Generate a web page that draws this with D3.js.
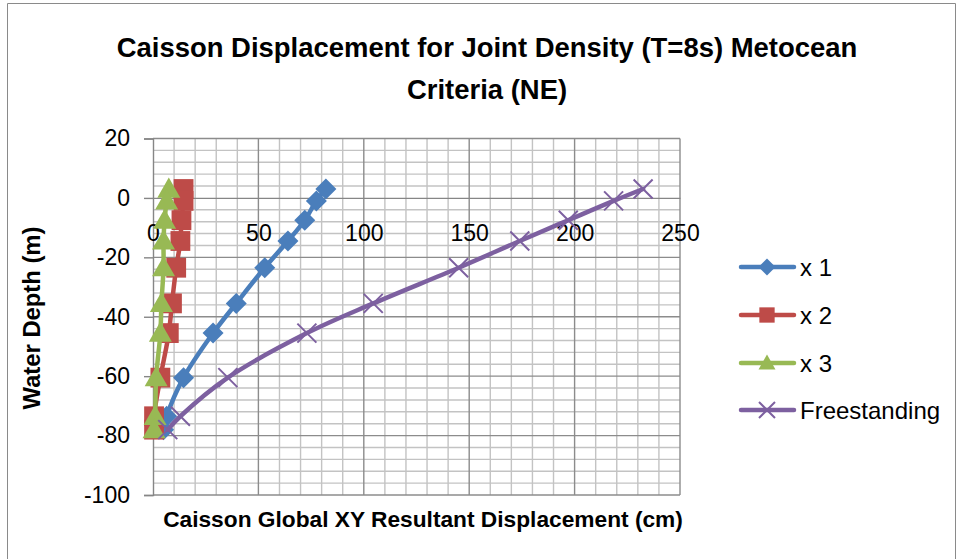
<!DOCTYPE html>
<html>
<head>
<meta charset="utf-8">
<script src="https://cdn.jsdelivr.net/npm/d3@7"></script>
<style>
  body { margin: 0; background: #fff; }
  svg { display: block; }
  text { font-family: "Liberation Sans", Arial, sans-serif; fill: #000; }
</style>
</head>
<body>
<div id="chart"></div>
<script>
// water depth levels (m), shared by all series
const depths = [3, -1, -7.5, -14.5, -23.5, -35.5, -45.5, -60.5, -73.5, -78];
// resultant displacement (cm) per case
const x1 = [82, 77.5, 72, 64, 53, 39.5, 28.5, 14.5, 6.5, 5];
const x2 = [14.5, 14.5, 13.5, 13, 11, 9, 7.5, 3.5, 0.5, 0.5];
const x3 = [7.5, 6.5, 5.5, 5, 5, 4, 3.5, 1.5, 1, 0.5];
const freestanding = [232.5, 218.5, 197, 174, 145, 104.5, 73, 35.5, 13, 7];

const seriesNames = ["x 1", "x 2", "x 3", "Freestanding"];
const xTicks = [0, 50, 100, 150, 200, 250];
const yTicks = [-100, -80, -60, -40, -20, 0, 20];

const W = 958, H = 559;

let svg = d3.select("#chart").append("svg")
    .attr("width", W)
    .attr("height", H);

// chart border
svg.append("path")
    .attr("d", "M7.5,620 V3.5 H955.5 V620")
    .attr("fill", "none")
    .attr("stroke", "#8a8a8a")
    .attr("stroke-width", 1);

let xScale = d3.scaleLinear().domain([0, 250]).range([153, 680]);
let yScale = d3.scaleLinear().domain([-100, 20]).range([495, 138.5]);

// gridlines, minor first then major
let grid = svg.append("g").attr("id", "grid");
grid.selectAll("line.vminor")
    .data(d3.range(0, 251, 10).filter(v => v % 50 !== 0))
    .join("line")
    .attr("x1", d => xScale(d)).attr("x2", d => xScale(d))
    .attr("y1", yScale(20)).attr("y2", yScale(-100))
    .attr("stroke", "#c3c3c3").attr("stroke-width", 1.4);
grid.selectAll("line.hminor")
    .data(d3.range(-100, 21, 4).filter(v => v % 20 !== 0))
    .join("line")
    .attr("x1", xScale(0)).attr("x2", xScale(250))
    .attr("y1", d => yScale(d)).attr("y2", d => yScale(d))
    .attr("stroke", "#c3c3c3").attr("stroke-width", 1.4);
grid.selectAll("line.vmajor")
    .data(xTicks.filter(v => v !== 0))
    .join("line")
    .attr("x1", d => xScale(d)).attr("x2", d => xScale(d))
    .attr("y1", yScale(20)).attr("y2", yScale(-100))
    .attr("stroke", "#8c8c8c").attr("stroke-width", 1.4);
grid.selectAll("line.hmajor")
    .data(yTicks.filter(v => v !== 0))
    .join("line")
    .attr("x1", xScale(0)).attr("x2", xScale(250))
    .attr("y1", d => yScale(d)).attr("y2", d => yScale(d))
    .attr("stroke", "#8c8c8c").attr("stroke-width", 1.4);

// y axis
let yaxis = svg.append("g")
    .attr("id", "y-axis")
    .attr("transform", "translate(" + xScale(0) + ",0)")
    .call(d3.axisLeft(yScale).tickValues(yTicks).tickSize(9).tickPadding(14).tickFormat(d => String(d)));
yaxis.select(".domain").attr("stroke", "#868686").attr("stroke-width", 1.4);
yaxis.selectAll(".tick line").attr("stroke", "#868686").attr("stroke-width", 1.4);
yaxis.selectAll("text").style("font-size", "23px").attr("fill", "#000")
    .style("font-family", "'Liberation Sans', Arial, sans-serif");

// x axis crosses at depth 0
let xaxis = svg.append("g")
    .attr("id", "x-axis")
    .attr("transform", "translate(0," + yScale(0) + ")")
    .call(d3.axisBottom(xScale).tickValues(xTicks).tickSize(0).tickFormat(d => String(d)));
xaxis.select(".domain").attr("stroke", "#868686").attr("stroke-width", 1.4);
xaxis.selectAll("text").attr("y", 43).attr("dy", 0)
    .style("font-size", "23px").attr("fill", "#000")
    .style("font-family", "'Liberation Sans', Arial, sans-serif");

// series
let colors = ["#4a7ebb", "#be4b48", "#98b954", "#7d60a0"];
let allX = [x1, x2, x3, freestanding];

let series = seriesNames.map((name, i) => ({
    name: name,
    color: colors[i],
    points: allX[i].map((v, j) => ({x: v, y: depths[j]}))
}));

let line = d3.line()
    .x(d => xScale(d.x))
    .y(d => yScale(d.y))
    .curve(d3.curveCatmullRom.alpha(0.5));

function marker (g, idx, color, s) {
    if (idx === 0) {
        g.append("path").attr("d", `M0,${-s} L${s},0 L0,${s} L${-s},0 Z`).attr("fill", color);
    } else if (idx === 1) {
        g.append("rect").attr("x", -s * 0.9).attr("y", -s * 0.9)
            .attr("width", s * 1.8).attr("height", s * 1.8).attr("fill", color);
    } else if (idx === 2) {
        g.append("path").attr("d", `M0,${-s} L${s},${s * 0.75} L${-s},${s * 0.75} Z`).attr("fill", color);
    } else {
        g.append("path").attr("d", `M${-s},${-s} L${s},${s} M${-s},${s} L${s},${-s}`)
            .attr("stroke", color).attr("stroke-width", 2).attr("fill", "none");
    }
}

let markerSize = [10.5, 11, 11.5, 9.5];
let plot = svg.append("g").attr("id", "series");
series.forEach((s, i) => {
    let g = plot.append("g");
    g.append("path")
        .attr("d", line(s.points))
        .attr("fill", "none")
        .attr("stroke", s.color)
        .attr("stroke-width", 4.5)
        .attr("stroke-linecap", "round")
        .attr("stroke-linejoin", "round");
    g.selectAll("g.mk")
        .data(s.points)
        .join("g")
        .attr("transform", d => `translate(${xScale(d.x)},${yScale(d.y)})`)
        .each(function () { marker(d3.select(this), i, s.color, markerSize[i]); });
});

// legend
let legendY = [267, 315, 363, 410];
let legend = svg.append("g").attr("id", "legend");
series.forEach((s, i) => {
    let g = legend.append("g").attr("transform", `translate(0,${legendY[i]})`);
    g.append("line").attr("x1", 741).attr("x2", 794).attr("y1", 0).attr("y2", 0)
        .attr("stroke", s.color).attr("stroke-width", 4.5).attr("stroke-linecap", "round");
    let m = g.append("g").attr("transform", "translate(767,0)");
    marker(m, i, s.color, i === 3 ? 8 : 8.5);
    g.append("text").attr("x", 800).attr("y", 8.5).style("font-size", "24px").text(s.name);
});

// titles, sized to the reference widths
function fitText (sel, target) {
    let w = sel.node().getComputedTextLength();
    let fs = parseFloat(sel.style("font-size"));
    sel.style("font-size", (fs * target / w) + "px");
}

let t1 = svg.append("text").attr("x", 487).attr("y", 57).attr("text-anchor", "middle")
    .style("font-size", "26px").style("font-weight", "bold")
    .text("Caisson Displacement for Joint Density (T=8s) Metocean");
fitText(t1, 741);
let t2 = svg.append("text").attr("x", 487).attr("y", 99).attr("text-anchor", "middle")
    .style("font-weight", "bold").style("font-size", t1.style("font-size"))
    .text("Criteria (NE)");

let yt = svg.append("text")
    .attr("transform", "translate(40,318)rotate(-90)")
    .attr("text-anchor", "middle")
    .style("font-size", "20px").style("font-weight", "bold")
    .text("Water Depth (m)");
fitText(yt, 183);

let xt = svg.append("text")
    .attr("x", 423).attr("y", 527)
    .attr("text-anchor", "middle")
    .style("font-size", "20px").style("font-weight", "bold")
    .text("Caisson Global XY Resultant Displacement (cm)");
fitText(xt, 520);
</script>
</body>
</html>
